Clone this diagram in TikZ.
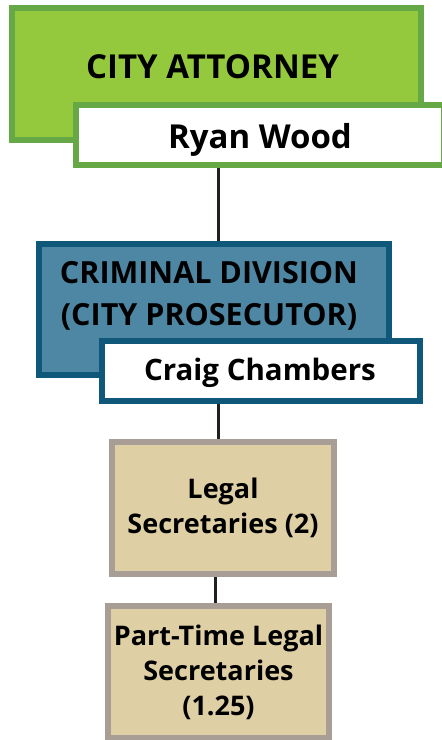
\documentclass[tikz,border=0pt]{standalone}
\usepackage{fontspec}
\setmainfont{Open Sans}
\usepackage{tikz}
\usetikzlibrary{positioning}
\definecolor{mygreen}{RGB}{149,201,61}
\definecolor{mygreenline}{RGB}{102,168,70}
\definecolor{myblue}{RGB}{78,135,164}
\definecolor{myblueline}{RGB}{16,88,122}
\definecolor{mytan}{RGB}{222,207,165}
\definecolor{mytanline}{RGB}{168,158,150}
\definecolor{mydark}{RGB}{35,31,32}
\tikzset{
  headblock/.style={rectangle, draw=mygreenline, fill=mygreen,
    line width=6pt, inner sep=0pt},
  divblock/.style={rectangle, draw=myblueline, fill=myblue,
    line width=6pt, inner sep=0pt},
  namebox/.style={rectangle, fill=white, line width=6pt, inner sep=0pt,
    minimum height=60pt},
  staffblock/.style={rectangle, draw=mytanline, fill=mytan,
    line width=6pt, inner sep=0pt, minimum height=132pt,
    align=center, font=\fontsize{27}{35}\selectfont\bfseries},
  bigtext/.style={inner sep=0pt, font=\fontsize{33}{40}\selectfont\bfseries},
  midtext/.style={inner sep=0pt, align=center,
    font=\fontsize{30.5}{42}\selectfont\bfseries},
  conn/.style={line width=3pt, color=mydark}
}
\begin{document}
\begin{tikzpicture}[x=1pt, y=-1pt]
  \useasboundingbox (0,0) rectangle (442,740);
  % city attorney
  \node[headblock, minimum width=409pt, minimum height=132pt] (atty) at (216.5,74) {};
  \node[bigtext, anchor=base] (atty-t) at (212.5,78) {CITY ATTORNEY};
  \node[namebox, draw=mygreenline, minimum width=368pt] (atty-name) at (260,135) {};
  \node[bigtext, anchor=base] (atty-n) at (260,148) {Ryan Wood};
  % criminal division
  \node[divblock, minimum width=350pt, minimum height=131pt] (crim) at (214,309.5) {};
  \node[midtext] (crim-t) at (209,296) {CRIMINAL DIVISION\\(CITY PROSECUTOR)};
  \node[namebox, draw=myblueline, minimum width=318pt] (crim-name) at (261,371) {};
  \node[midtext, anchor=base, font=\fontsize{29.5}{36}\selectfont\bfseries] (crim-n) at (260,380) {Craig Chambers};
  % staff
  \node[staffblock, minimum width=222pt] (legal) at (223,508) {Legal\\Secretaries (2)};
  \node[staffblock, minimum width=221pt] (parttime) at (218.5,672) {Part-Time Legal\\Secretaries\\(1.25)};
  % connectors
  \draw[conn] (atty-name.south -| 218,0) -- (crim.north -| 218,0);
  \draw[conn] (crim-name.south -| 218,0) -- (legal.north -| 218,0);
  \draw[conn] (legal.south -| 215,0) -- (parttime.north -| 215,0);
\end{tikzpicture}
\end{document}
